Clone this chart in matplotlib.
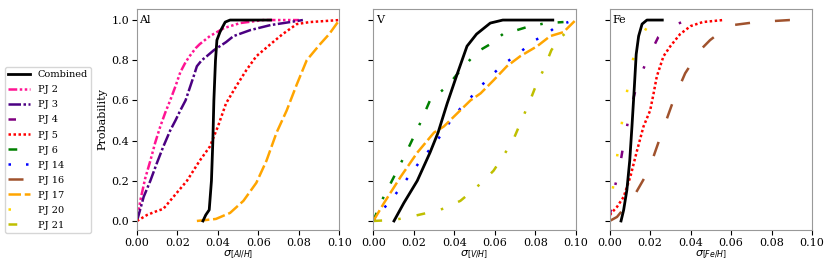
import numpy as np
import matplotlib
matplotlib.use("Agg")
from matplotlib import pyplot as plt

plt.rcParams['font.family'] = 'DejaVu Serif'
plt.rcParams['font.size'] = 8

# ---------------- data
# Al panel
al_comb_x = [0.0326, 0.0340, 0.0357, 0.0368, 0.0375, 0.0380, 0.0388, 0.0395, 0.0410, 0.0420, 0.0436, 0.0460, 0.0520, 0.0660]
al_comb_y = [0.0, 0.03, 0.055, 0.20, 0.40, 0.60, 0.80, 0.90, 0.94, 0.96, 0.99, 1.0, 1.0, 1.0]
al_pj2_x = [0.0, 0.0016, 0.0040, 0.0066, 0.0090, 0.0115, 0.0140, 0.0164, 0.0190, 0.0214, 0.0240, 0.0260, 0.0290, 0.0310, 0.0360, 0.0430, 0.0510, 0.0625, 0.0800]
al_pj2_y = [0.0, 0.10, 0.21, 0.30, 0.39, 0.47, 0.54, 0.60, 0.67, 0.74, 0.79, 0.82, 0.86, 0.88, 0.92, 0.96, 0.985, 1.0, 1.0]
al_pj3_x = [0.0, 0.0033, 0.0066, 0.0099, 0.0130, 0.0164, 0.0190, 0.0214, 0.0240, 0.0260, 0.0280, 0.0296, 0.0320, 0.0345, 0.0380, 0.0410, 0.0440, 0.0477, 0.0560, 0.0660, 0.0757, 0.0820]
al_pj3_y = [0.0, 0.12, 0.20, 0.29, 0.37, 0.45, 0.50, 0.55, 0.60, 0.66, 0.72, 0.77, 0.80, 0.82, 0.85, 0.87, 0.89, 0.92, 0.95, 0.975, 0.99, 1.0]
al_pj5_x = [0.0, 0.005, 0.010, 0.013, 0.018, 0.0247, 0.031, 0.036, 0.040, 0.044, 0.049, 0.054, 0.059, 0.066, 0.072, 0.079, 0.0855, 0.100]
al_pj5_y = [0.0, 0.03, 0.05, 0.06, 0.12, 0.20, 0.30, 0.37, 0.47, 0.585, 0.67, 0.75, 0.82, 0.88, 0.93, 0.98, 0.99, 1.0]
al_pj17_x = [0.0296, 0.039, 0.046, 0.0526, 0.059, 0.064, 0.069, 0.074, 0.079, 0.0839, 0.0905, 0.095, 0.100]
al_pj17_y = [0.0, 0.01, 0.04, 0.10, 0.19, 0.30, 0.44, 0.55, 0.68, 0.80, 0.88, 0.93, 1.0]

# V panel
v_comb_x = [0.0102, 0.0151, 0.0217, 0.028, 0.032, 0.0365, 0.0414, 0.0463, 0.051, 0.0578, 0.064, 0.0887]
v_comb_y = [0.0, 0.09, 0.20, 0.34, 0.44, 0.585, 0.73, 0.87, 0.93, 0.985, 1.0, 1.0]
v_pj6_x = [0.0, 0.0036, 0.0069, 0.0102, 0.0167, 0.0233, 0.028, 0.0365, 0.0414, 0.0463, 0.051, 0.0578, 0.064, 0.071, 0.0775, 0.0857, 0.094]
v_pj6_y = [0.0, 0.09, 0.155, 0.22, 0.35, 0.49, 0.60, 0.67, 0.73, 0.785, 0.84, 0.88, 0.93, 0.95, 0.97, 0.985, 0.99]
v_pj14_x = [0.0, 0.0044, 0.0085, 0.0126, 0.0233, 0.0274, 0.0315, 0.039, 0.043, 0.047, 0.051, 0.056, 0.060, 0.065, 0.070, 0.075, 0.080, 0.0857, 0.0906, 0.0964]
v_pj14_y = [0.0, 0.055, 0.10, 0.155, 0.30, 0.35, 0.40, 0.51, 0.56, 0.60, 0.65, 0.70, 0.74, 0.785, 0.82, 0.86, 0.90, 0.93, 0.97, 0.99]
v_pj17_x = [0.0, 0.0053, 0.0135, 0.0217, 0.030, 0.0348, 0.0414, 0.048, 0.053, 0.0594, 0.066, 0.0726, 0.081, 0.0874, 0.094, 0.100]
v_pj17_y = [0.0, 0.09, 0.22, 0.34, 0.44, 0.47, 0.535, 0.60, 0.635, 0.70, 0.77, 0.82, 0.87, 0.92, 0.94, 1.0]
v_pj21_x = [0.0, 0.0102, 0.018, 0.0266, 0.033, 0.043, 0.0496, 0.0545, 0.0594, 0.064, 0.069, 0.0726, 0.0775, 0.0808, 0.084, 0.088, 0.092, 0.097, 0.100]
v_pj21_y = [0.0, 0.005, 0.02, 0.04, 0.055, 0.10, 0.155, 0.20, 0.25, 0.32, 0.40, 0.485, 0.60, 0.685, 0.75, 0.85, 0.91, 0.95, 0.97]

# Fe panel
fe_comb_x = [0.0056, 0.0069, 0.0085, 0.0099, 0.0110, 0.0122, 0.0131, 0.0143, 0.0160, 0.0184, 0.0260]
fe_comb_y = [0.0, 0.055, 0.155, 0.30, 0.47, 0.67, 0.83, 0.92, 0.98, 1.0, 1.0]
fe_pj4_x = [0.0, 0.002, 0.0053, 0.0074, 0.0102, 0.0135, 0.0184, 0.024, 0.0300, 0.0360]
fe_pj4_y = [0.02, 0.145, 0.29, 0.415, 0.55, 0.68, 0.80, 0.915, 0.97, 0.99]
fe_pj5_x = [0.0, 0.0036, 0.0069, 0.0102, 0.0135, 0.0167, 0.020, 0.0217, 0.0233, 0.0266, 0.030, 0.0348, 0.040, 0.046, 0.056]
fe_pj5_y = [0.03, 0.07, 0.12, 0.22, 0.35, 0.47, 0.55, 0.635, 0.72, 0.82, 0.87, 0.93, 0.97, 0.99, 1.0]
fe_pj16_x = [0.0, 0.0036, 0.0118, 0.0192, 0.0258, 0.0315, 0.0373, 0.0447, 0.0496, 0.056, 0.061, 0.0726, 0.089, 0.0956]
fe_pj16_y = [0.0, 0.02, 0.12, 0.25, 0.44, 0.60, 0.735, 0.85, 0.90, 0.95, 0.975, 0.99, 1.0, 1.0]
fe_pj20_x = [0.0, 0.0011, 0.0028, 0.0044, 0.0062, 0.0082, 0.0102, 0.0131, 0.0187, 0.030]
fe_pj20_y = [0.0, 0.13, 0.25, 0.38, 0.50, 0.62, 0.75, 0.87, 0.97, 1.0]

y_ticks = [0.0, 0.2, 0.4, 0.6, 0.8, 1.0]
y_tick_labels = ['0.0', '0.2', '0.4', '0.6', '0.8', '1.0']
x_ticks = [0.0, 0.02, 0.04, 0.06, 0.08, 0.10]

# ---------------- styles per source
styles = {
    'Combined': dict(color='black', linestyle='-'),
    'PJ 2': dict(color='deeppink', linestyle=(0, (3.5, 1, 1, 1, 1, 1, 1, 1))),
    'PJ 3': dict(color='indigo', linestyle=(0, (5, 1, 1, 1))),
    'PJ 4': dict(color='purple', linestyle=(0, (3, 10, 1, 10))),
    'PJ 5': dict(color='red', linestyle=(0, (1, 1))),
    'PJ 6': dict(color='green', linestyle=(0, (3.5, 6, 1, 6))),
    'PJ 14': dict(color='blue', linestyle=(0, (1, 6))),
    'PJ 16': dict(color='sienna', linestyle=(0, (6, 10))),
    'PJ 17': dict(color='orange', linestyle=(0, (5, 1.5))),
    'PJ 20': dict(color='gold', linestyle=(0, (1, 12))),
    'PJ 21': dict(color='y', linestyle=(0, (3.5, 6.5, 1, 6.5))),
}

panels = [
    ('Al', r'$\sigma_{[Al/H]}$', [('Combined', al_comb_x, al_comb_y), ('PJ 2', al_pj2_x, al_pj2_y),
                                  ('PJ 3', al_pj3_x, al_pj3_y), ('PJ 5', al_pj5_x, al_pj5_y),
                                  ('PJ 17', al_pj17_x, al_pj17_y)]),
    ('V', r'$\sigma_{[V/H]}$', [('Combined', v_comb_x, v_comb_y), ('PJ 6', v_pj6_x, v_pj6_y),
                                ('PJ 14', v_pj14_x, v_pj14_y), ('PJ 17', v_pj17_x, v_pj17_y),
                                ('PJ 21', v_pj21_x, v_pj21_y)]),
    ('Fe', r'$\sigma_{[Fe/H]}$', [('Combined', fe_comb_x, fe_comb_y), ('PJ 4', fe_pj4_x, fe_pj4_y),
                                  ('PJ 5', fe_pj5_x, fe_pj5_y), ('PJ 16', fe_pj16_x, fe_pj16_y),
                                  ('PJ 20', fe_pj20_x, fe_pj20_y)]),
]

fig, axs = plt.subplots(1, 3, figsize=(8.3, 2.7), dpi=100)
fig.subplots_adjust(left=137 / 830, right=812 / 830, bottom=40 / 270, top=261 / 270, wspace=34 / 202)

handles = {}
for i, (name, xlab, curves) in enumerate(panels):
    ax = axs[i]
    for lab, xs, ys in curves:
        z = 3 if lab == 'Combined' else 2
        ln, = ax.plot(xs, ys, lw=2 if lab == 'Combined' else 1.8, zorder=z, **styles[lab])
        handles[lab] = ln
    ax.set_xlim(0, 0.1)
    ax.set_ylim(-0.045, 1.055)
    ax.set_xticks(x_ticks)
    ax.tick_params(length=3.5, pad=2)
    ax.set_xlabel(xlab, labelpad=1)
    for s in ax.spines.values():
        s.set_color('#999999')
    ax.text(0.0012, 1.0, name, va='center', ha='left')
    if i == 0:
        ax.set_yticks(y_ticks, labels=y_tick_labels)
        ax.set_ylabel('Probability', labelpad=3)
    else:
        ax.set_yticks(y_ticks, labels=['' for _ in y_ticks])

order = ['Combined', 'PJ 2', 'PJ 3', 'PJ 4', 'PJ 5', 'PJ 6', 'PJ 14', 'PJ 16', 'PJ 17', 'PJ 20', 'PJ 21']
fig.legend([handles[k] for k in order], order, loc='upper left',
           bbox_to_anchor=(5 / 830, 1 - 67 / 270), borderaxespad=0, fontsize=7,
           handlelength=2.2, labelspacing=0.62, borderpad=0.35, handletextpad=0.8)

plt.savefig('out.png', dpi=100)
